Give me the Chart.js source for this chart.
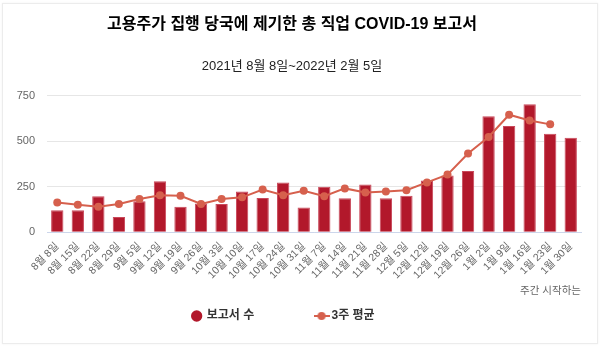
<!DOCTYPE html>
<html>
<head>
<meta charset="utf-8">
<script src="https://cdn.jsdelivr.net/npm/chart.js@4.4.1/dist/chart.umd.min.js"></script>
<style>
  html, body { margin: 0; padding: 0; background: #fff; }
  #card {
    position: absolute; left: 2px; top: 3px; width: 594px; height: 339px;
    border: 1px solid #ececec; box-shadow: 0 0 2px rgba(0,0,0,0.06);
    background: #fff;
  }
  #chart { display: block; }
</style>
</head>
<body>
<div id="card"><canvas id="chart" width="594" height="339"></canvas></div>
<script>
const weeks = [
  "8월 8일", "8월 15일", "8월 22일", "8월 29일", "9월 5일", "9월 12일", "9월 19일",
  "9월 26일", "10월 3일", "10월 10일", "10월 17일", "10월 24일", "10월 31일",
  "11월 7일", "11월 14일", "11월 21일", "11월 28일", "12월 5일", "12월 12일",
  "12월 19일", "12월 26일", "1월 2일", "1월 9일", "1월 16일", "1월 23일", "1월 30일"
];
const reports = [
  121, 121, 198, 84, 170, 280, 140, 158, 155, 224, 188, 274, 136,
  250, 187, 263, 187, 201, 284, 312, 336, 638, 584, 703, 541, 519
];
const avg3 = [
  164, 151, 140, 155, 183, 203, 200, 155, 183, 192, 235, 203, 228,
  198, 241, 218, 224, 231, 274, 317, 433, 524, 646, 614, 593, null
];
const yTicks = [0, 250, 500, 750];

const FONT = '"Liberation Sans", Arial, "Noto Sans CJK KR", sans-serif';
const barColor = "#b2182b";
const lineColor = "#d6604d";

// legend icon for the line series: short line with a dot
function lineIcon() {
  const c = document.createElement("canvas");
  c.width = 16; c.height = 10;
  const g = c.getContext("2d");
  g.strokeStyle = lineColor; g.lineWidth = 2;
  g.beginPath(); g.moveTo(0, 5); g.lineTo(16, 5); g.stroke();
  g.fillStyle = lineColor;
  g.beginPath(); g.arc(8, 5, 4, 0, Math.PI * 2); g.fill();
  return c;
}
const lineIconCanvas = lineIcon();

// extra spacing so the legend items sit apart like the original
const legendGap = ["                ", "     "];

new Chart(document.getElementById("chart"), {
  data: {
    labels: weeks,
    datasets: [
      {
        type: "bar",
        label: "보고서 수",
        data: reports,
        backgroundColor: barColor,
        borderColor: "#c9485a",
        borderWidth: 1,
        barPercentage: 0.6,
        categoryPercentage: 1,
        order: 2
      },
      {
        type: "line",
        label: "3주 평균",
        data: avg3,
        borderColor: lineColor,
        backgroundColor: lineColor,
        borderWidth: 2,
        pointRadius: 4,
        pointHoverRadius: 4,
        pointBorderWidth: 0,
        tension: 0,
        order: 1
      }
    ]
  },
  options: {
    responsive: false,
    animation: false,
    layout: { padding: { left: 0, right: 16, top: 0, bottom: 11 } },
    plugins: {
      title: {
        display: true,
        text: "고용주가 집행 당국에 제기한 총 직업 COVID-19 보고서",
        color: "#000",
        font: { family: FONT, size: 16, weight: "bold" },
        padding: { top: 11, bottom: 24 }
      },
      subtitle: {
        display: true,
        text: "2021년 8월 8일~2022년 2월 5일",
        color: "#222",
        font: { family: FONT, size: 13 },
        padding: { top: 0, bottom: 22 }
      },
      legend: {
        position: "bottom",
        labels: {
          usePointStyle: true,
          boxWidth: 8,
          boxHeight: 8,
          padding: 10,
          color: "#333",
          font: { family: FONT, size: 12, weight: "bold" },
          generateLabels: (chart) => chart.data.datasets.map((ds, i) => ({
            text: ds.label + legendGap[i],
            datasetIndex: i,
            fillStyle: ds.type === "bar" ? barColor : lineColor,
            strokeStyle: ds.type === "bar" ? barColor : lineColor,
            lineWidth: 0,
            hidden: !chart.isDatasetVisible(i),
            pointStyle: ds.type === "bar" ? "circle" : lineIconCanvas,
            fontColor: "#333"
          }))
        }
      },
      tooltip: { enabled: false }
    },
    scales: {
      x: {
        grid: { display: false },
        border: { color: "#ccd6eb", width: 1 },
        ticks: {
          color: "#666",
          font: { family: FONT, size: 10.5 },
          minRotation: 45,
          maxRotation: 45,
          autoSkip: false,
          padding: 0
        },
        title: {
          display: true,
          text: "주간 시작하는",
          align: "end",
          color: "#666",
          font: { family: FONT, size: 10.5 },
          padding: { top: 3, bottom: 3 }
        }
      },
      y: {
        min: 0,
        max: 750,
        afterBuildTicks: (axis) => { axis.ticks = yTicks.map(v => ({ value: v })); },
        afterFit: (axis) => { axis.width = 44; },
        grid: { color: "#e6e6e6", drawTicks: false },
        border: { display: false },
        ticks: {
          color: "#666",
          font: { family: FONT, size: 11 },
          padding: 12
        }
      }
    }
  }
});
</script>
</body>
</html>
